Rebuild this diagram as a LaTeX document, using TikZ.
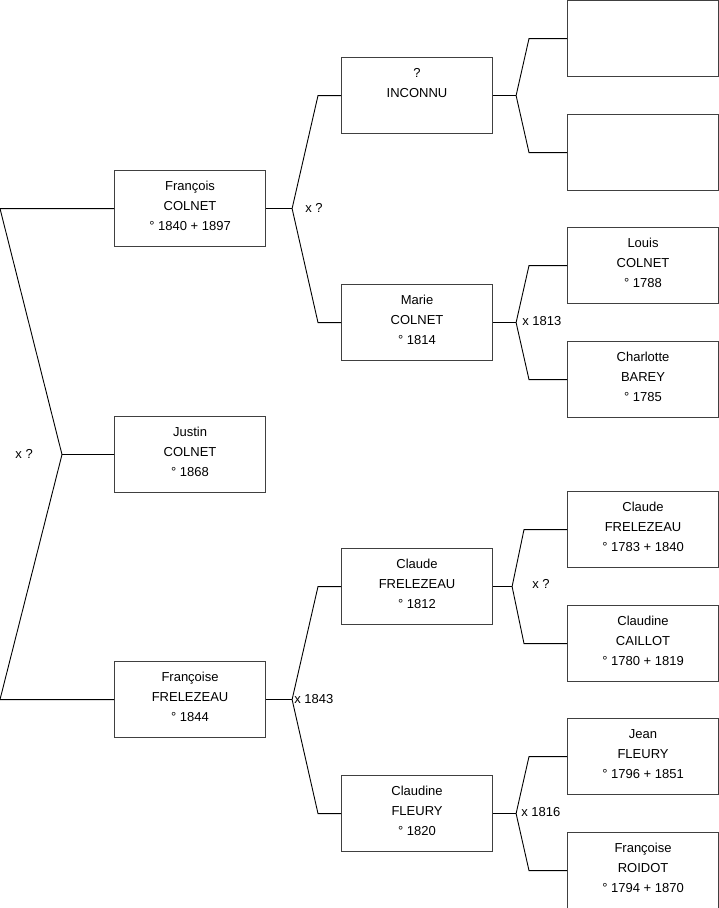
\documentclass[tikz,border=0pt]{standalone}
\usepackage{fontspec}
\setmainfont{Liberation Sans}
\usetikzlibrary{positioning,calc}

\newcommand{\fiche}[3]{\strut#1\\\strut#2\\\strut#3\rule[-10pt]{0pt}{1pt}}

\begin{document}
\begin{tikzpicture}[x=1pt,y=-1pt,
  person/.style={draw=black!75,line width=1.1pt,minimum width=151pt,minimum height=76pt,
    inner sep=0pt,align=center,anchor=north west,font=\fontsize{13}{20}\selectfont},
  link/.style={line width=0.9pt},
  union/.style={anchor=west,inner sep=0pt,font=\fontsize{13}{15}\selectfont}]
  \useasboundingbox (0,0) rectangle (719,908);

  % first column
  \node[person] (justin) at (114,416) {\fiche{Justin}{COLNET}{° 1868}};
  \node[person] (francois) at (114,170) {\fiche{François}{COLNET}{° 1840 + 1897}};
  \node[person] (francoise) at (114,661) {\fiche{Françoise}{FRELEZEAU}{° 1844}};

  % second column
  \node[person] (inconnu) at (341,57) {\fiche{?}{INCONNU}{}};
  \node[person] (marie) at (341,284) {\fiche{Marie}{COLNET}{° 1814}};
  \node[person] (claude) at (341,548) {\fiche{Claude}{FRELEZEAU}{° 1812}};
  \node[person] (claudine) at (341,775) {\fiche{Claudine}{FLEURY}{° 1820}};

  % third column
  \node[person] (inconnup) at (567,0) {};
  \node[person] (inconnum) at (567,114) {};
  \node[person] (louis) at (567,227) {\fiche{Louis}{COLNET}{° 1788}};
  \node[person] (charlotte) at (567,341) {\fiche{Charlotte}{BAREY}{° 1785}};
  \node[person] (claudep) at (567,491) {\fiche{Claude}{FRELEZEAU}{° 1783 + 1840}};
  \node[person] (claudinec) at (567,605) {\fiche{Claudine}{CAILLOT}{° 1780 + 1819}};
  \node[person] (jean) at (567,718) {\fiche{Jean}{FLEURY}{° 1796 + 1851}};
  \node[person] (francoiser) at (567,832) {\fiche{Françoise}{ROIDOT}{° 1794 + 1870}};

  % couples
  \draw[link] (francois.west) -- ++(-114,0) -- ($(justin.west)+(-52,0)$) coordinate (xjustin)
    -- ($(francoise.west)+(-114,0)$) -- (francoise.west);
  \draw[link] (justin.west) -- (xjustin);
  \foreach \p/\u/\l/\a/\b in {francois/inconnu/marie/26/23,francoise/claude/claudine/26/23,
      inconnu/inconnup/inconnum/23/38,marie/louis/charlotte/23/38,
      claude/claudep/claudinec/19/43,claudine/jean/francoiser/23/38}{
    \draw[link] (\u.west) -- ++(-\b,0) -- ($(\p.east)+(\a,0)$) coordinate (x\p)
      -- ($(\l.west)+(-\b,0)$) -- (\l.west);
    \draw[link] (\p.east) -- (x\p);
  }

  % marriages
  \node[union,anchor=east] (ujustin) at ($(xjustin)+(-29,-1)$) {x ?};
  \node[union] (ufrancois) at ($(xfrancois)+(13,-1)$) {x ?};
  \node[union] (ufrancoise) at ($(xfrancoise)+(2,-1)$) {x 1843};
  \node[union] (umarie) at ($(xmarie)+(6,-2)$) {x 1813};
  \node[union] (uclaude) at ($(xclaude)+(20,-3)$) {x ?};
  \node[union] (uclaudine) at ($(xclaudine)+(5,-2)$) {x 1816};
\end{tikzpicture}
\end{document}
